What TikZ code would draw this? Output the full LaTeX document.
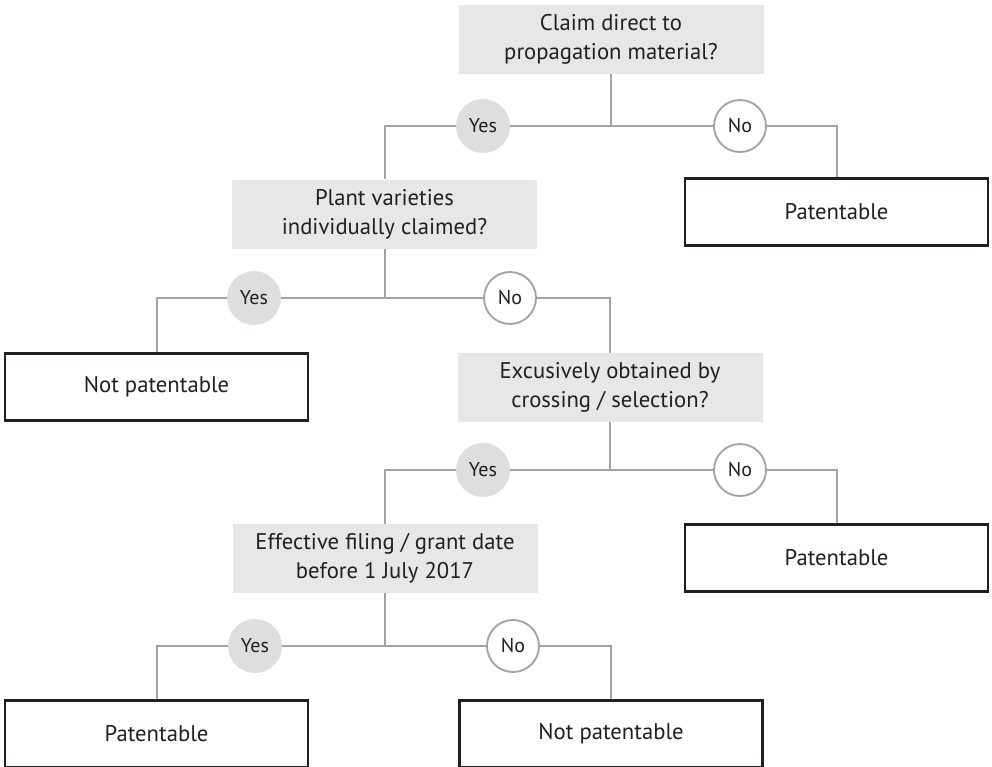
\documentclass[tikz,border=0pt]{standalone}
\usepackage{fontspec}
\setmainfont{PT Sans}
\definecolor{qfill}{HTML}{E6E7E8}
\definecolor{linegray}{HTML}{A3A3A3}
\definecolor{yesfill}{HTML}{DDDEDF}
\definecolor{boxline}{HTML}{231F20}
\tikzset{
  question/.style={fill=qfill, text=boxline, align=center, inner sep=0pt,
    minimum width=228.75pt, minimum height=51.75pt, font=\fontsize{17}{22}\selectfont},
  result/.style={draw=boxline, line width=1.8pt, fill=white, text=boxline, inner sep=0pt,
    minimum width=227pt, minimum height=50pt, font=\fontsize{17}{22}\selectfont},
  yes/.style={circle, fill=yesfill, text=boxline, inner sep=0pt,
    minimum size=40.5pt, font=\fontsize{15}{17}\selectfont},
  no/.style={circle, draw=linegray, line width=1.4pt, fill=white, text=boxline, inner sep=0pt,
    minimum size=39pt, font=\fontsize{15}{17}\selectfont},
  branch/.style={draw=linegray, line width=1.5pt}
}
\begin{document}
\begin{tikzpicture}[x=0.75pt,y=-0.75pt]
\useasboundingbox (0,0) rectangle (992,767);
% questions
\node[question] (q1) at (611,39.5) {Claim direct to\\propagation material?};
\node[question] (q2) at (384.5,214) {Plant varieties\\individually claimed?};
\node[question] (q3) at (610,387.5) {Excusively obtained by\\crossing / selection?};
\node[question] (q4) at (385,558.5) {Effective filing / grant date\\before 1 July 2017};
% results
\node[result] (r1) at (836.5,212) {Patentable};
\node[result] (r2) at (156.5,387) {Not patentable};
\node[result] (r3) at (836.5,558) {Patentable};
\node[result] (r4) at (156.5,734) {Patentable};
\node[result] (r5) at (611,734) {Not patentable};
% junctions
\coordinate (j1) at (611,126);
\coordinate (j2) at (384.5,298);
\coordinate (j3) at (610,470);
\coordinate (j4) at (385,646);
% answers
\node[yes] (y1) at (483,126) {Yes};
\node[no] (n1) at (740,126) {No};
\node[yes] (y2) at (254,298) {Yes};
\node[no] (n2) at (510,298) {No};
\node[yes] (y3) at (483,470) {Yes};
\node[no] (n3) at (740,470) {No};
\node[yes] (y4) at (255,646) {Yes};
\node[no] (n4) at (513,646) {No};
% connectors
\draw[branch] (q1.south) -- (j1);
\draw[branch] (j1) -- (y1);
\draw[branch] (j1) -- (n1);
\draw[branch] (y1) -| (q2.north);
\draw[branch] (n1) -| (r1.north);
\draw[branch] (q2.south) -- (j2);
\draw[branch] (j2) -- (y2);
\draw[branch] (j2) -- (n2);
\draw[branch] (y2) -| (r2.north);
\draw[branch] (n2) -| (q3.north);
\draw[branch] (q3.south) -- (j3);
\draw[branch] (j3) -- (y3);
\draw[branch] (j3) -- (n3);
\draw[branch] (y3) -| (q4.north);
\draw[branch] (n3) -| (r3.north);
\draw[branch] (q4.south) -- (j4);
\draw[branch] (j4) -- (y4);
\draw[branch] (j4) -- (n4);
\draw[branch] (y4) -| (r4.north);
\draw[branch] (n4) -| (r5.north);
\end{tikzpicture}
\end{document}
